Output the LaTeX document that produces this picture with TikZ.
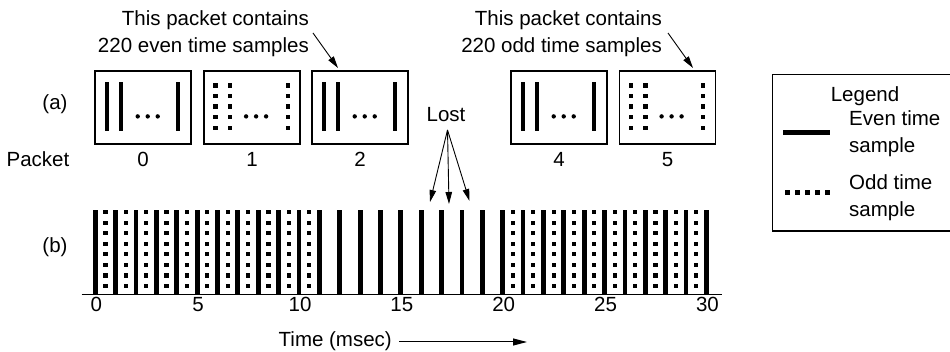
\documentclass[tikz,border=0pt]{standalone}
\usepackage{fontspec}
\setmainfont{Liberation Sans}
\usetikzlibrary{arrows.meta}
\tikzset{
  lbl/.style={font=\fontsize{20.5}{27}\selectfont, inner sep=0pt},
  pbox/.style={draw, line width=1.2pt, minimum width=96pt, minimum height=73pt, inner sep=0pt},
  thinarrow/.style={line width=0.9pt, -{Triangle[length=12pt,width=6.5pt]}},
  timearrow/.style={line width=1pt, -{Triangle[length=14pt,width=7pt]}},
}
\newcommand\evencontent[1]{%
  \begin{scope}[shift={(#1.north west)}]
    \fill (11,12) rectangle (15,61);
    \fill (24.3,12) rectangle (28.3,61);
    \fill (81.7,12) rectangle (85.7,61);
    \foreach \dx in {43.3,53.3,63.3} \fill (\dx,46) circle (2.2pt);
  \end{scope}}
\newcommand\oddcontent[1]{%
  \begin{scope}[shift={(#1.north west)}]
    \foreach \cx in {12,26.7,84.3}
      \foreach \j in {0,...,4}
        \fill ({\cx-2.15},{12.85+10.6*\j}) rectangle ++(4.3,4.3);
    \foreach \dx in {42.7,52.7,62.7} \fill (\dx,46) circle (2.2pt);
  \end{scope}}
\begin{document}
\begin{tikzpicture}[x=1pt,y=-1pt]
\useasboundingbox (0,0) rectangle (950,352);

% ---- (a) packets
\node[lbl, anchor=base] (la) at (55,110) {(a)};
\node[lbl, anchor=base] (lpk) at (38,167) {Packet};

\node[pbox] (p0) at (143,107.5) {};
\node[pbox] (p1) at (252,107.5) {};
\node[pbox] (p2) at (360,107.5) {};
\node[pbox] (p4) at (559,107.5) {};
\node[pbox] (p5) at (667.5,107.5) {};
\evencontent{p0}
\oddcontent{p1}
\evencontent{p2}
\evencontent{p4}
\oddcontent{p5}

\node[lbl, anchor=base] (n0) at (143,167) {0};
\node[lbl, anchor=base] (n1) at (252,167) {1};
\node[lbl, anchor=base] (n2) at (360,167) {2};
\node[lbl, anchor=base] (n4) at (559,167) {4};
\node[lbl, anchor=base] (n5) at (667.5,167) {5};

\node[lbl, anchor=base east, align=right] (teven) at (309,52.5) {This packet contains\\220 even time samples};
\node[lbl, anchor=base east, align=right] (todd) at (662,52.5) {This packet contains\\220 odd time samples};
\coordinate (ae1) at (313,33);
\coordinate (ae2) at (338,68);
\coordinate (ao1) at (668,33);
\coordinate (ao2) at (693,68);
\draw[thinarrow] (ae1) -- (ae2);
\draw[thinarrow] (ao1) -- (ao2);

% ---- lost
\node[lbl, anchor=base] (lost) at (446,122) {Lost};
\coordinate (lo) at (447.5,130);
\coordinate (l1) at (430,202);
\coordinate (l2) at (449,204);
\coordinate (l3) at (469.5,201);
\draw[thinarrow] (lo) -- (l1);
\draw[thinarrow] (lo) -- (l2);
\draw[thinarrow] (lo) -- (l3);

% ---- (b) samples
\node[lbl, anchor=base] (lb) at (55,253) {(b)};
\foreach \k in {0,...,30}
  \fill ({95.3+20.37*\k-2.4},210) rectangle ++(4.8,84);
\foreach \k in {0,...,10}
  \foreach \j in {0,...,7}
    \fill ({95.3+20.37*(\k+0.5)-2.1},{210+10.57*\j}) rectangle ++(4.2,4.2);
\foreach \k in {20,...,29}
  \foreach \j in {0,...,7}
    \fill ({95.3+20.37*(\k+0.5)-2.1},{210+10.57*\j}) rectangle ++(4.2,4.2);
\draw[line width=1.3pt] (81.7,294.3) -- (721.7,294.3);

\foreach \t in {0,5,...,30}
  \node[lbl, anchor=base] (t\t) at ({95.3+20.37*\t+1},312) {\t};

\node[lbl, anchor=base east] (time) at (392,347) {Time (msec)};
\coordinate (ta1) at (399,342);
\coordinate (ta2) at (527,342);
\draw[timearrow] (ta1) -- (ta2);

% ---- legend
\draw[line width=1.2pt] (772.7,74.3) rectangle (965,231);
\node[lbl, anchor=base] (leg) at (865,102) {Legend};
\coordinate (s1) at (783,133);
\coordinate (s2) at (830,133);
\draw[line width=5pt] (s1) -- (s2);
\node[lbl, anchor=base west, align=left] (leven) at (849,153) {Even time\\sample};
\foreach \i in {0,...,4}
  \fill ({785+10*\i},190.5) rectangle ++(5,5);
\node[lbl, anchor=base west, align=left] (lodd) at (849,217) {Odd time\\sample};
\end{tikzpicture}
\end{document}
